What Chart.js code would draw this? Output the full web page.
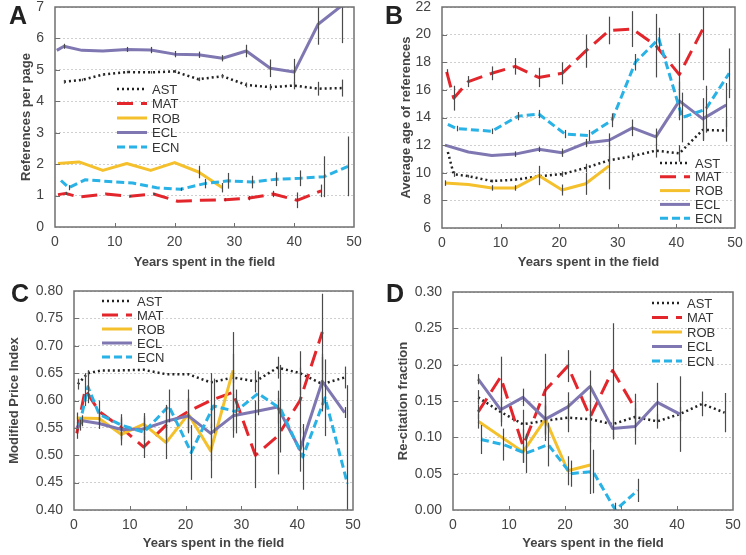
<!DOCTYPE html>
<html>
<head>
<meta charset="utf-8">
<script src="https://cdn.jsdelivr.net/npm/chart.js@4.4.0/dist/chart.umd.min.js"></script>
<style>
  body { margin: 0; background: #fff; }
  #wrap { position: relative; width: 746px; height: 555px; }
  canvas { position: absolute; }
</style>
</head>
<body>
<div id="wrap">
  <canvas id="chA" width="373" height="278" style="left:0;top:0"></canvas>
  <canvas id="chB" width="373" height="278" style="left:373px;top:0"></canvas>
  <canvas id="chC" width="373" height="277" style="left:0;top:278px"></canvas>
  <canvas id="chD" width="373" height="277" style="left:373px;top:278px"></canvas>
</div>
<script>
// series
const seriesNames = ['AST', 'MAT', 'ROB', 'ECL', 'ECN'];
const seriesColors = ['#222222', '#e3262c', '#f4c02c', '#7f77b1', '#29b2e6'];
const seriesDash = [[2, 3], [16, 8], [], [], [8, 4]];
const seriesWidth = [2.5, 3, 3, 3, 3];

const xTicks = [0, 10, 20, 30, 40, 50];

// A - references per page
const yTicksA = [0, 1, 2, 3, 4, 5, 6, 7];
const A_AST_x = [1.5, 4.5, 8, 12, 16, 20, 24, 28, 32, 36, 40, 44, 48];
const A_AST_y = [4.62, 4.68, 4.85, 4.93, 4.92, 4.95, 4.7, 4.8, 4.52, 4.45, 4.5, 4.4, 4.42];
const A_AST_e = [0.06, 0.04, 0.04, 0.04, 0.04, 0.05, 0.06, 0.07, 0.08, 0.1, 0.12, 0.22, 0.27];
const A_MAT_x = [0.5, 1.8, 4, 8.5, 12.5, 16.5, 20.5, 24.5, 28.5, 32.5, 36.5, 40.5, 44.5];
const A_MAT_y = [1.03, 1.07, 0.95, 1.05, 0.98, 1.05, 0.82, 0.85, 0.87, 0.92, 1.05, 0.85, 1.15];
const A_MAT_e = [0, 0.05, 0, 0, 0.03, 0.03, 0, 0, 0.05, 0.07, 0.1, 0.25, 0.2];
const A_ROB_x = [0.5, 4, 8, 12, 16, 20, 24, 28];
const A_ROB_y = [2.02, 2.07, 1.8, 2.02, 1.8, 2.05, 1.75, 1.25];
const A_ROB_e = [0, 0, 0, 0, 0, 0, 0.2, 0.15];
const A_ECL_x = [0.3, 1.5, 4.5, 8, 12, 16, 20, 24, 28, 32, 36, 40, 44, 48];
const A_ECL_y = [5.62, 5.75, 5.62, 5.6, 5.65, 5.63, 5.5, 5.48, 5.37, 5.6, 5.05, 4.93, 6.45, 7.05];
const A_ECL_e = [0, 0.08, 0, 0, 0.08, 0.1, 0.1, 0.1, 0.1, 0.2, 0.28, 0.42, 0.65, 1.2];
const A_ECN_x = [1, 2.3, 5, 9, 13, 17, 21, 25, 29, 33, 37, 41, 45, 49];
const A_ECN_y = [1.48, 1.25, 1.5, 1.45, 1.4, 1.25, 1.2, 1.38, 1.47, 1.43, 1.52, 1.55, 1.6, 1.93];
const A_ECN_e = [0, 0.08, 0, 0, 0, 0, 0.05, 0.15, 0.25, 0.2, 0.22, 0.25, 0.65, 0.95];

// B - average age of references
const yTicksB = [6, 8, 10, 12, 14, 16, 18, 20, 22];
const B_AST_x = [1, 2, 4.5, 8.5, 12.5, 16.5, 20.5, 24.5, 28.5, 32.5, 36.5, 40.5, 44.5, 48.5];
const B_AST_y = [11.5, 9.9, 9.75, 9.4, 9.5, 9.75, 9.9, 10.35, 10.9, 11.2, 11.6, 11.4, 13.1, 13.05];
const B_AST_e = [0, 0.2, 0.1, 0.1, 0.1, 0.1, 0.2, 0.3, 0.3, 0.3, 0.5, 0.6, 0.8, 0.8];
const B_MAT_x = [0.8, 2, 4.5, 8.5, 12.5, 16.5, 20.5, 24.5, 28.5, 32.5, 36.5, 40.5, 44.5];
const B_MAT_y = [17.3, 15.4, 16.6, 17.2, 17.7, 16.9, 17.2, 18.8, 20.3, 20.4, 19.2, 17.1, 20.4];
const B_MAT_e = [0.2, 0.9, 0.4, 0.5, 0.6, 0.7, 0.8, 1.2, 1.0, 1.3, 2.3, 3.0, 3.7];
const B_ROB_x = [0.5, 4.5, 8.5, 12.5, 16.5, 20.5, 24.5, 28.5];
const B_ROB_y = [9.25, 9.15, 8.9, 8.9, 9.8, 8.75, 9.2, 10.5];
const B_ROB_e = [0.2, 0, 0.2, 0.2, 0.7, 0.4, 0.8, 1.7];
const B_ECL_x = [0.5, 4.5, 8.5, 12.5, 16.5, 20.5, 24.5, 28.5, 32.5, 36.5, 40.5, 44.5, 48.5];
const B_ECL_y = [12.0, 11.5, 11.25, 11.35, 11.7, 11.45, 12.15, 12.35, 13.25, 12.6, 15.2, 13.9, 14.9];
const B_ECL_e = [0, 0, 0, 0.2, 0.2, 0.3, 0.3, 0.5, 0.6, 0.6, 1.4, 1.5, 1.6];
const B_ECN_x = [1, 2.5, 8.5, 13, 16.5, 21, 25, 29, 33, 37, 41, 45, 49];
const B_ECN_y = [13.5, 13.2, 13.0, 14.1, 14.25, 12.8, 12.7, 13.8, 18.0, 19.7, 14.0, 14.6, 17.2];
const B_ECN_e = [0, 0.2, 0.2, 0.3, 0.3, 0.3, 0.4, 0.5, 0.6, 0.8, 1.8, 1.7, 1.8];

// C - modified price index
const yTicksC = [0.40, 0.45, 0.50, 0.55, 0.60, 0.65, 0.70, 0.75, 0.80];
const C_AST_x = [0.7, 2.5, 5, 8.5, 12.5, 16.5, 20.5, 24.5, 28.5, 32.5, 36.5, 40.5, 44.5, 48.5];
const C_AST_y = [0.63, 0.65, 0.655, 0.655, 0.656, 0.648, 0.648, 0.633, 0.642, 0.635, 0.66, 0.65, 0.63, 0.642];
const C_AST_e = [0.01, 0.005, 0, 0, 0, 0, 0, 0, 0.01, 0.02, 0.02, 0.04, 0.05, 0.02];
const C_MAT_x = [0.5, 2, 4.5, 8.5, 12.5, 16.5, 20.5, 24.5, 28.5, 32.5, 36.5, 40.5, 44.5];
const C_MAT_y = [0.54, 0.62, 0.58, 0.55, 0.515, 0.555, 0.58, 0.6, 0.615, 0.5, 0.535, 0.6, 0.725];
const C_MAT_e = [0.01, 0.03, 0.02, 0.02, 0.02, 0.03, 0.04, 0.05, 0.07, 0.06, 0.07, 0.06, 0.07];
const C_ROB_x = [0.5, 4.5, 8.5, 12.5, 16.5, 20.5, 24.5, 28.5];
const C_ROB_y = [0.568, 0.567, 0.538, 0.557, 0.523, 0.575, 0.508, 0.655];
const C_ROB_e = [0.01, 0.01, 0.02, 0.02, 0.03, 0.03, 0.05, 0.07];
const C_ECL_x = [0.5, 1.5, 4.5, 8.5, 12.5, 16.5, 20.5, 24.5, 28.5, 32.5, 36.5, 40.5, 44.5, 48.5];
const C_ECL_y = [0.55, 0.563, 0.558, 0.547, 0.548, 0.562, 0.572, 0.54, 0.572, 0.58, 0.588, 0.51, 0.635, 0.578];
const C_ECL_e = [0.01, 0.01, 0.01, 0.02, 0.02, 0.03, 0.03, 0.05, 0.04, 0.02, 0.03, 0.04, 0.05, 0.01];
const C_ECN_x = [1, 2.5, 4.5, 8.5, 12.5, 17, 21, 25, 29, 33, 37, 41, 45, 49];
const C_ECN_y = [0.555, 0.625, 0.575, 0.555, 0.542, 0.59, 0.505, 0.59, 0.58, 0.613, 0.585, 0.497, 0.605, 0.448];
const C_ECN_e = [0.01, 0.03, 0.01, 0.02, 0.03, 0.03, 0.05, 0.05, 0.04, 0.04, 0.08, 0.06, 0.07, 0.18];

// D - re-citation fraction
const yTicksD = [0.00, 0.05, 0.10, 0.15, 0.20, 0.25, 0.30];
const D_AST_x = [4.5, 8.5, 12.5, 16.5, 20.5, 24.5, 28.5, 32.5, 36.5, 40.5, 44.5, 48.5];
const D_AST_y = [0.155, 0.135, 0.118, 0.123, 0.127, 0.125, 0.118, 0.128, 0.122, 0.132, 0.146, 0.134];
const D_AST_e = [0.01, 0.02, 0.02, 0.02, 0.02, 0.02, 0.02, 0.02, 0.01, 0.01, 0.017, 0.027];
const D_MAT_x = [4.5, 8.5, 12.5, 16.5, 20.5, 24.5, 28.5, 32.5];
const D_MAT_y = [0.135, 0.183, 0.088, 0.165, 0.198, 0.128, 0.192, 0.14];
const D_MAT_e = [0.01, 0.028, 0.023, 0.05, 0.022, 0.035, 0.065, 0.02];
const D_ROB_x = [4.5, 12.5, 16.5, 20.5, 24.5];
const D_ROB_y = [0.122, 0.08, 0.125, 0.054, 0.062];
const D_ROB_e = [0.01, 0.015, 0.03, 0.02, 0.04];
const D_ECL_x = [4.5, 8.5, 12.5, 16.5, 20.5, 24.5, 28.5, 32.5, 36.5, 40.5];
const D_ECL_y = [0.18, 0.138, 0.155, 0.125, 0.142, 0.17, 0.112, 0.115, 0.148, 0.132];
const D_ECL_e = [0.007, 0.017, 0.012, 0.02, 0.02, 0.022, 0.015, 0.025, 0.027, 0.052];
const D_ECN_x = [5, 9, 13, 17, 21, 25, 29, 33];
const D_ECN_y = [0.097, 0.09, 0.078, 0.09, 0.05, 0.053, 0.0, 0.027];
const D_ECN_e = [0.02, 0.022, 0.027, 0.03, 0.018, 0.03, 0.01, 0.016];

const FONT = '"Liberation Sans", Arial, Helvetica, sans-serif';

// frame, error bars, legend and panel letter
const decor = {
  id: 'decor',
  afterDatasetsDraw(chart) {
    const { ctx, chartArea: a, scales: { x, y } } = chart;
    ctx.save();
    ctx.beginPath();
    ctx.rect(a.left, a.top, a.right - a.left, a.bottom - a.top);
    ctx.clip();
    ctx.strokeStyle = '#4a4a4a';
    ctx.lineWidth = 1.2;
    chart.data.datasets.forEach(ds => {
      ds.data.forEach((p, i) => {
        const e = ds.err[i];
        if (!e) return;
        const px = Math.round(x.getPixelForValue(p.x)) + 0.5;
        ctx.beginPath();
        ctx.moveTo(px, y.getPixelForValue(p.y - e));
        ctx.lineTo(px, y.getPixelForValue(p.y + e));
        ctx.stroke();
      });
    });
    ctx.restore();
  },
  afterDraw(chart, args, opts) {
    const { ctx, chartArea: a, scales: { x, y } } = chart;
    ctx.save();
    ctx.strokeStyle = '#707070';
    ctx.lineWidth = 1.5;
    ctx.strokeRect(a.left, a.top, a.right - a.left, a.bottom - a.top);
    ctx.lineWidth = 1;
    x.ticks.forEach(t => {
      if (t.value <= x.min || t.value >= x.max) return;
      const px = Math.round(x.getPixelForValue(t.value)) + 0.5;
      ctx.beginPath(); ctx.moveTo(px, a.bottom); ctx.lineTo(px, a.bottom - 4); ctx.stroke();
    });
    y.ticks.forEach(t => {
      if (t.value <= y.min || t.value >= y.max) return;
      const py = Math.round(y.getPixelForValue(t.value)) + 0.5;
      ctx.beginPath(); ctx.moveTo(a.left, py); ctx.lineTo(a.left + 5, py); ctx.stroke();
    });

    // legend
    ctx.font = '13px ' + FONT;
    ctx.textBaseline = 'middle';
    ctx.textAlign = 'left';
    chart.data.datasets.forEach((ds, k) => {
      const ly = opts.legY + k * opts.legStep;
      ctx.beginPath();
      ctx.setLineDash(ds.borderDash);
      ctx.lineWidth = ds.borderWidth;
      ctx.strokeStyle = ds.borderColor;
      ctx.moveTo(opts.legX, ly);
      ctx.lineTo(opts.legX + 30, ly);
      ctx.stroke();
      ctx.setLineDash([]);
      ctx.fillStyle = '#333';
      ctx.fillText(ds.label, opts.legX + 35, ly + 1);
    });

    // panel letter
    ctx.font = 'bold 25px ' + FONT;
    ctx.textAlign = 'center';
    ctx.fillStyle = '#222';
    ctx.fillText(opts.letter, opts.letX, opts.letY);
    ctx.restore();
  }
};

function makePanel(id, p) {
  const cv = document.getElementById(id);
  const W = cv.width, H = cv.height;
  const datasets = p.xs.map((xs, k) => ({
    label: seriesNames[k],
    data: xs.map((v, i) => ({ x: v, y: p.ys[k][i] })),
    err: p.es[k],
    borderColor: seriesColors[k],
    borderWidth: seriesWidth[k],
    borderDash: seriesDash[k],
    borderCapStyle: 'butt',
    borderJoinStyle: 'round',
    pointRadius: 0,
    tension: 0,
    fill: false,
    order: 4 - k
  }));
  return new Chart(cv, {
    type: 'line',
    data: { datasets: datasets },
    options: {
      responsive: false,
      animation: false,
      layout: { padding: { left: 0, top: p.area.top, right: W - p.area.right, bottom: 0 } },
      plugins: {
        legend: { display: false },
        tooltip: { enabled: false },
        decor: { legX: p.legX, legY: p.legY, legStep: p.legStep, letter: p.letter, letX: p.letX, letY: p.letY }
      },
      scales: {
        x: {
          type: 'linear', min: 0, max: 50,
          afterBuildTicks: s => { s.ticks = xTicks.map(v => ({ value: v })); },
          grid: { display: false, drawTicks: false },
          border: { display: false },
          ticks: { padding: 7, color: '#444', font: { family: FONT, size: 14 } },
          title: {
            display: true, text: 'Years spent in the field', color: '#444',
            font: { family: FONT, size: 13, weight: 'bold' },
            padding: { top: 0, bottom: p.xTitlePad }
          },
          afterFit: s => { s.height = H - p.area.bottom; s.paddingLeft = 0; s.paddingRight = 0; }
        },
        y: {
          min: p.yTicks[0], max: p.yTicks[p.yTicks.length - 1],
          afterBuildTicks: s => { s.ticks = p.yTicks.map(v => ({ value: v })); },
          grid: { color: '#cfcfcf', drawTicks: false },
          border: { display: false, dash: [2, 2] },
          ticks: {
            padding: 11, color: '#444', font: { family: FONT, size: 14 },
            callback: v => p.decimals ? v.toFixed(p.decimals) : String(v)
          },
          title: {
            display: true, text: p.yTitle, color: '#444',
            font: { family: FONT, size: 13, weight: 'bold' },
            padding: { top: p.yTitlePad, bottom: 0 }
          },
          afterFit: s => { s.width = p.area.left; s.paddingTop = 0; s.paddingBottom = 0; }
        }
      }
    },
    plugins: [decor]
  });
}

makePanel('chA', {
  xs: [A_AST_x, A_MAT_x, A_ROB_x, A_ECL_x, A_ECN_x],
  ys: [A_AST_y, A_MAT_y, A_ROB_y, A_ECL_y, A_ECN_y],
  es: [A_AST_e, A_MAT_e, A_ROB_e, A_ECL_e, A_ECN_e],
  yTicks: yTicksA, decimals: 0, yTitle: 'References per page',
  area: { left: 55, right: 354, top: 7, bottom: 227 },
  xTitlePad: 8, yTitlePad: 19,
  legX: 117, legY: 89, legStep: 14.5,
  letter: 'A', letX: 18, letY: 17
});
makePanel('chB', {
  xs: [B_AST_x, B_MAT_x, B_ROB_x, B_ECL_x, B_ECN_x],
  ys: [B_AST_y, B_MAT_y, B_ROB_y, B_ECL_y, B_ECN_y],
  es: [B_AST_e, B_MAT_e, B_ROB_e, B_ECL_e, B_ECN_e],
  yTicks: yTicksB, decimals: 0, yTitle: 'Average age of references',
  area: { left: 69, right: 362, top: 7, bottom: 228 },
  xTitlePad: 8, yTitlePad: 26,
  legX: 287, legY: 163, legStep: 13.8,
  letter: 'B', letX: 21, letY: 17
});
makePanel('chC', {
  xs: [C_AST_x, C_MAT_x, C_ROB_x, C_ECL_x, C_ECN_x],
  ys: [C_AST_y, C_MAT_y, C_ROB_y, C_ECL_y, C_ECN_y],
  es: [C_AST_e, C_MAT_e, C_ROB_e, C_ECL_e, C_ECN_e],
  yTicks: yTicksC, decimals: 2, yTitle: 'Modified Price Index',
  area: { left: 74, right: 353, top: 13, bottom: 232 },
  xTitlePad: 4, yTitlePad: 7,
  legX: 102, legY: 23, legStep: 14,
  letter: 'C', letX: 20, letY: 17
});
makePanel('chD', {
  xs: [D_AST_x, D_MAT_x, D_ROB_x, D_ECL_x, D_ECN_x],
  ys: [D_AST_y, D_MAT_y, D_ROB_y, D_ECL_y, D_ECN_y],
  es: [D_AST_e, D_MAT_e, D_ROB_e, D_ECL_e, D_ECN_e],
  yTicks: yTicksD, decimals: 2, yTitle: 'Re-citation fraction',
  area: { left: 80, right: 360, top: 14, bottom: 232 },
  xTitlePad: 4, yTitlePad: 23,
  legX: 279, legY: 25, legStep: 14.5,
  letter: 'D', letX: 22, letY: 17
});
</script>
</body>
</html>
